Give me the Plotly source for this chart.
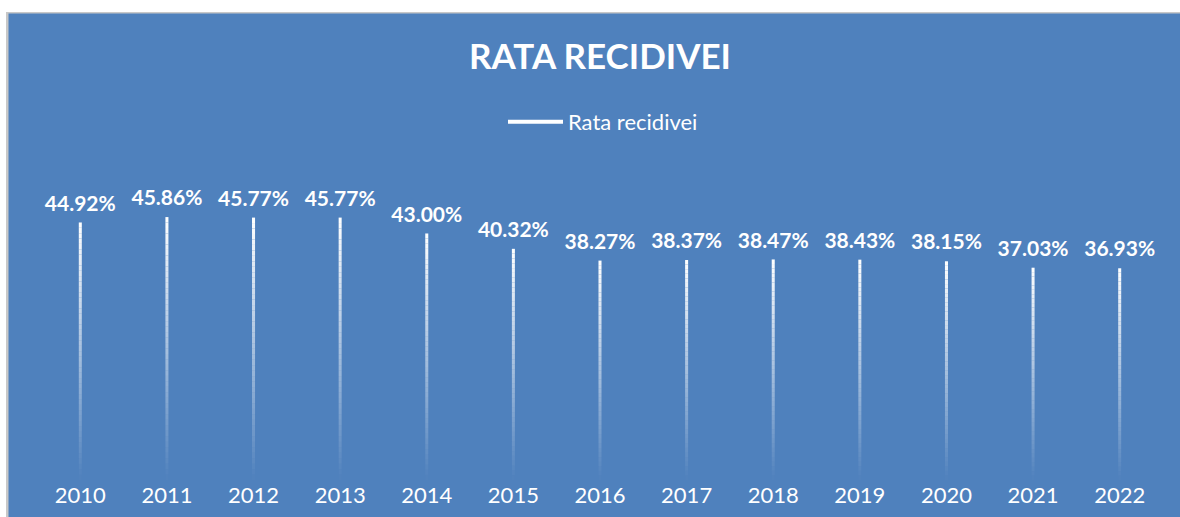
import plotly.graph_objects as go

years = ["2010", "2011", "2012", "2013", "2014", "2015", "2016",
         "2017", "2018", "2019", "2020", "2021", "2022"]
rates = [44.92, 45.86, 45.77, 45.77, 43.00, 40.32, 38.27,
         38.37, 38.47, 38.43, 38.15, 37.03, 36.93]
series_name = "Rata recidivei"
title_text = "RATA RECIDIVEI"

W, H = 1180, 517
ML, MR, MT, MB = 37, 17, 136, 37
BLUE = "#4F81BD"
FONT = "Lato"

# gradient bars: each bar split into stacked segments fading to transparent at the bottom
N = 48
seg_x, seg_base, seg_h, seg_col = [], [], [], []
for yr, v in zip(years, rates):
    for k in range(N):
        seg_x.append(yr)
        seg_base.append(v * k / N)
        seg_h.append(v / N)
        a = (k + 0.5) / N
        seg_col.append(f"rgba(255,255,255,{a:.3f})")

fig = go.Figure()
fig.add_trace(go.Bar(
    x=seg_x, y=seg_h, base=seg_base, width=0.035,
    marker=dict(color=seg_col, line=dict(width=0)),
    showlegend=False, hoverinfo="skip",
))
fig.add_trace(go.Scatter(
    x=years, y=rates, mode="markers+text",
    marker=dict(size=9, color="rgba(0,0,0,0)"),
    text=[f"{v:.2f}%" for v in rates],
    textposition="top center",
    textfont=dict(family=FONT, size=21, color="white", weight="bold"),
    showlegend=False, cliponaxis=False,
    hovertemplate="%{x}: %{y:.2f}%<extra></extra>",
))
# legend entry
fig.add_trace(go.Scatter(
    x=[years[0]], y=[None], mode="lines",
    line=dict(color="white", width=4),
    name=series_name,
))

pw = W - ML - MR
ph = H - MT - MB
def px2x(px):
    return (px - ML) / pw
def py2y(py):
    return (H - MB - py) / ph

shapes = [
    dict(type="rect", xref="paper", yref="paper", x0=px2x(0), x1=px2x(W), y0=py2y(0), y1=py2y(12),
         fillcolor="white", line=dict(width=0), layer="below"),
    dict(type="rect", xref="paper", yref="paper", x0=px2x(0), x1=px2x(6), y0=py2y(0), y1=py2y(H),
         fillcolor="white", line=dict(width=0), layer="below"),
    dict(type="rect", xref="paper", yref="paper", x0=px2x(6), x1=px2x(W), y0=py2y(12), y1=py2y(13.5),
         fillcolor="#C8C8C8", line=dict(width=0), layer="below"),
    dict(type="rect", xref="paper", yref="paper", x0=px2x(6), x1=px2x(8.5), y0=py2y(12), y1=py2y(H),
         fillcolor="#C8C8C8", line=dict(width=0), layer="below"),
]

fig.update_layout(
    width=W, height=H,
    margin=dict(l=ML, r=MR, t=MT, b=MB, autoexpand=False),
    paper_bgcolor=BLUE, plot_bgcolor="rgba(0,0,0,0)",
    barmode="overlay",
    title=dict(text=f"<b>{title_text}</b>", x=px2x(600), xref="paper", xanchor="center",
               y=1 - 57 / H, yanchor="middle",
               font=dict(family=FONT, size=35, color="white")),
    legend=dict(orientation="h", x=px2x(603), xanchor="center",
                yref="container", y=1 - 122 / H, yanchor="middle",
                font=dict(family=FONT, size=22, color="white"),
                itemwidth=55, bgcolor="rgba(0,0,0,0)"),
    xaxis=dict(type="category", range=[-0.5, len(years) - 0.5],
               showgrid=False, showline=False, zeroline=False, ticks="",
               tickfont=dict(family=FONT, size=22, color="white")),
    yaxis=dict(range=[0, 60], visible=False, showgrid=False, zeroline=False),
    shapes=shapes,
)

fig.write_html(
    "out.html",
    config={"displayModeBar": False},
    post_script="document.body.style.margin='0';document.body.style.overflow='hidden';",
)
